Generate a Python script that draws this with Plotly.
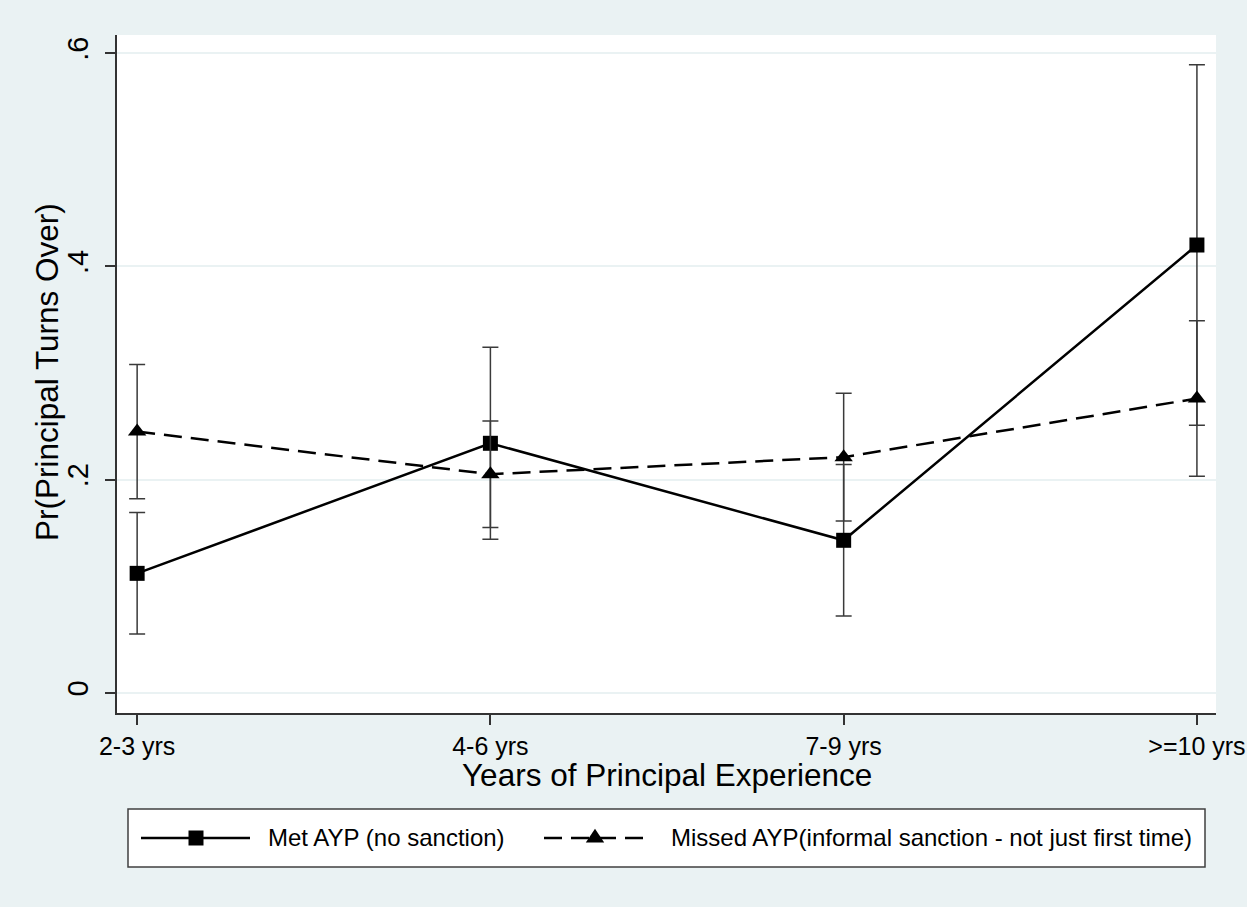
import plotly.graph_objects as go

# ---------------- data ----------------
categories = ["2-3 yrs", "4-6 yrs", "7-9 yrs", ">=10 yrs"]

met_name = "Met AYP (no sanction)"
met_values = [0.112, 0.234, 0.143, 0.420]
met_ci_half = [0.057, 0.090, 0.071, 0.169]

missed_name = "Missed AYP(informal sanction - not just first time)"
missed_values = [0.245, 0.205, 0.221, 0.276]
missed_ci_half = [0.063, 0.050, 0.060, 0.073]

y_tickvals = [0, 0.2, 0.4, 0.6]
y_ticktext = ["0", ".2", ".4", ".6"]

x_title = "Years of Principal Experience"
y_title = "Pr(Principal Turns Over)"

# ---------------- styling ----------------
BG = "#EAF2F3"
FONT = "Liberation Sans, Arial, sans-serif"
W, H = 1247, 907
PL, PR, PT, PB = 117, 1216, 35, 713  # plot area in px

fig = go.Figure()

fig.add_trace(go.Scatter(
    x=categories, y=met_values, name=met_name, mode="lines+markers",
    line=dict(color="black", width=2.5),
    marker=dict(symbol="square", size=15, color="black"),
    error_y=dict(type="data", array=met_ci_half, symmetric=True,
                 color="#3a3a3a", thickness=1.5, width=8),
    showlegend=False,
))
fig.add_trace(go.Scatter(
    x=categories, y=missed_values, name=missed_name, mode="lines+markers",
    line=dict(color="black", width=2.5, dash="18px,9px"),
    marker=dict(symbol="triangle-up", size=16, color="black"),
    error_y=dict(type="data", array=missed_ci_half, symmetric=True,
                 color="#3a3a3a", thickness=1.5, width=8),
    showlegend=False,
))

# ---------------- custom legend and titles (layout decoration) ----------------
def px_x(px):
    return (px - PL) / (PR - PL)

def px_y(py):
    return (PB - py) / (PB - PT)

shapes = []
annotations = []
# legend box
shapes.append(dict(type="rect", xref="paper", yref="paper",
                   x0=px_x(128), x1=px_x(1205), y0=px_y(867), y1=px_y(809),
                   line=dict(color="#404040", width=1.5), fillcolor="white", layer="above"))
ly = 838
# item 1: solid line + square
shapes.append(dict(type="line", xref="paper", yref="paper",
                   x0=px_x(141), x1=px_x(250), y0=px_y(ly), y1=px_y(ly),
                   line=dict(color="black", width=2.5), layer="above"))
shapes.append(dict(type="rect", xref="paper", yref="paper",
                   x0=px_x(196 - 7.5), x1=px_x(196 + 7.5), y0=px_y(ly + 7.5), y1=px_y(ly - 7.5),
                   line=dict(color="black", width=0), fillcolor="black", layer="above"))
annotations.append(dict(xref="paper", yref="paper", x=px_x(266), y=px_y(ly),
                        xanchor="left", yanchor="middle", showarrow=False,
                        text=met_name, font=dict(family=FONT, size=24, color="black")))
# item 2: dashed line + triangle
shapes.append(dict(type="line", xref="paper", yref="paper",
                   x0=px_x(544), x1=px_x(646), y0=px_y(ly), y1=px_y(ly),
                   line=dict(color="black", width=2.5, dash="18px,9px"), layer="above"))
tx, th = 595, 9.2
path = "M {} {} L {} {} L {} {} Z".format(
    px_x(tx - th), px_y(ly + 4.6), px_x(tx + th), px_y(ly + 4.6), px_x(tx), px_y(ly - 9.2))
shapes.append(dict(type="path", xref="paper", yref="paper", path=path,
                   line=dict(color="black", width=0), fillcolor="black", layer="above"))
annotations.append(dict(xref="paper", yref="paper", x=px_x(669), y=px_y(ly),
                        xanchor="left", yanchor="middle", showarrow=False,
                        text=missed_name, font=dict(family=FONT, size=24, color="black")))
# axis titles
annotations.append(dict(xref="paper", yref="paper", x=px_x(667), y=px_y(775),
                        xanchor="center", yanchor="middle", showarrow=False, borderpad=0,
                        text=x_title, font=dict(family=FONT, size=31.5, color="black")))
annotations.append(dict(xref="paper", yref="paper", x=px_x(47), y=px_y(372),
                        xanchor="center", yanchor="middle", showarrow=False, textangle=-90,
                        borderpad=0,
                        text=y_title, font=dict(family=FONT, size=31.5, color="black")))

fig.update_layout(
    template="none",
    width=W, height=H,
    margin=dict(l=PL, r=W - PR, t=PT, b=H - PB, pad=0),
    paper_bgcolor=BG, plot_bgcolor="white",
    font=dict(family=FONT, color="black"),
    shapes=shapes, annotations=annotations,
    showlegend=False,
)
fig.update_xaxes(
    type="category", range=[-0.057, 3.054],
    showgrid=False, zeroline=False,
    showline=True, linecolor="#333333", linewidth=1.5, mirror=False,
    ticks="outside", ticklen=10, tickwidth=1.5, tickcolor="#333333",
    tickfont=dict(family=FONT, size=25, color="black"),
    automargin=False,
)
fig.update_yaxes(
    range=[-0.019, 0.617],
    tickvals=y_tickvals, ticktext=y_ticktext, tickangle=-90,
    showgrid=True, gridcolor=BG, gridwidth=2, zeroline=False,
    showline=True, linecolor="#333333", linewidth=1.5,
    ticks="outside", ticklen=10, tickwidth=1.5, tickcolor="#333333",
    tickfont=dict(family=FONT, size=29, color="black"),
    ticklabelstandoff=6,
    automargin=False,
)

fig.write_html("out.html")
